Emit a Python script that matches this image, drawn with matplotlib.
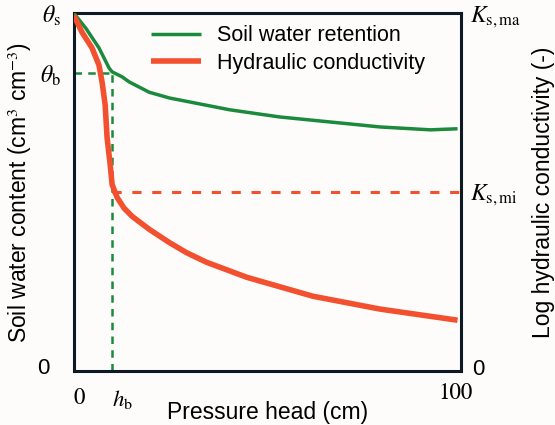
import matplotlib.pyplot as plt
from matplotlib.transforms import ScaledTranslation

plt.rcParams['font.family'] = ['Liberation Sans', 'DejaVu Sans']
plt.rcParams['mathtext.fontset'] = 'stix'

# soil water retention curve (relative water content vs pressure head)
head_swr = [0, 3.1, 6.5, 9.1, 9.9, 12.5, 14.3, 19.5, 24.7, 29.9, 40.3, 53.2, 66.2, 79.2, 92.2, 99.2]
theta = [1.0, 0.958, 0.903, 0.847, 0.836, 0.822, 0.808, 0.779, 0.763, 0.752, 0.730, 0.710,
         0.696, 0.682, 0.674, 0.677]

# log hydraulic conductivity curve
head_k = [0, 2.1, 4.7, 6.5, 7.3, 8.1, 8.6, 9.4, 9.9, 11.2, 13.0, 15.1, 19.5, 24.7, 29.1,
          34.3, 44.7, 61.8, 79.2, 99.2]
log_k = [0.994, 0.947, 0.903, 0.855, 0.808, 0.744, 0.652, 0.577, 0.521, 0.485, 0.455, 0.432,
         0.396, 0.359, 0.331, 0.304, 0.262, 0.209, 0.173, 0.142]

h_b = 10
theta_b = 0.833
ks_mi = 0.501

green = '#1b8a3c'
red = '#f2502e'
axis_col = '#0d1a24'
bg = '#fdfcfa'

fig = plt.figure(figsize=(5.55, 4.25), dpi=100)
fig.patch.set_facecolor(bg)
ax = fig.add_axes([0.133, 0.127, 0.697, 0.842])
ax.set_facecolor(bg)

ax.plot(head_swr, theta, color=green, lw=2.5, label='Soil water retention', zorder=3,
        solid_capstyle='butt')
ax.plot(head_k, log_k, color=red, lw=4.0, label='Hydraulic conductivity', zorder=3,
        solid_capstyle='butt')

# air-entry guides
ax.plot([0, h_b], [theta_b, theta_b], color=green, lw=1.8, ls=(0, (3, 2.5)))
ax.plot([h_b, h_b], [0, theta_b], color=green, lw=1.8, ls=(0, (3, 2.5)))
ax.plot([h_b, 100], [ks_mi, ks_mi], color=red, lw=2.2, ls=(0, (3, 3.5)))

ax.set_xlim(0, 100)
ax.set_ylim(0, 1)
for s in ax.spines.values():
    s.set_linewidth(2.2)
    s.set_color(axis_col)

ax.set_xticks([0, h_b, 100])
ax.set_xticklabels(['0', r'$h_{\rm b}$', '100'], fontsize=16.5, family='STIXGeneral')
ax.set_yticks([0, theta_b, 1])
ax.set_yticklabels(['0', r'$\theta_{\rm b}$', r'$\theta_{\rm s}$'], fontsize=17)
ax.tick_params(length=0)
ax.tick_params(axis='x', pad=12)
ax.tick_params(axis='y', pad=9)

xl = ax.get_xticklabels()
xl[0].set_ha('left')
xl[1].set_ha('left')
xl[2].set_transform(xl[2].get_transform() + ScaledTranslation(-0.05, 0.05, fig.dpi_scale_trans))
yl = ax.get_yticklabels()
yl[0].set_fontsize(16)
yl[0].set_transform(yl[0].get_transform() + ScaledTranslation(-0.12, 0.05, fig.dpi_scale_trans))

ax2 = ax.twinx()
ax2.set_ylim(0, 1)
ax2.set_yticks([0, ks_mi, 1])
ax2.set_yticklabels(['0', r'$K_{\rm s,mi}$', r'$K_{\rm s,ma}$'], fontsize=17)
ax2.tick_params(length=0, pad=7)
y2 = ax2.get_yticklabels()
y2[0].set_fontsize(16)
y2[0].set_transform(y2[0].get_transform() + ScaledTranslation(0.02, 0.04, fig.dpi_scale_trans))
for s in ax2.spines.values():
    s.set_visible(False)

ax.set_xlabel('Pressure head (cm)', fontsize=16.5, labelpad=-7)
ax.set_ylabel('Soil water content (cm$^3$ cm$^{-3}$)', fontsize=16.5, labelpad=2)
ax2.set_ylabel('Log hydraulic conductivity (-)', fontsize=16.5, labelpad=8)

ax.legend(loc='upper left', bbox_to_anchor=(0.15, 1.02), frameon=False, fontsize=15.5,
          handlelength=2.3, handletextpad=0.75, labelspacing=0.3)

fig.savefig('out.png', dpi=100, facecolor=fig.get_facecolor())
